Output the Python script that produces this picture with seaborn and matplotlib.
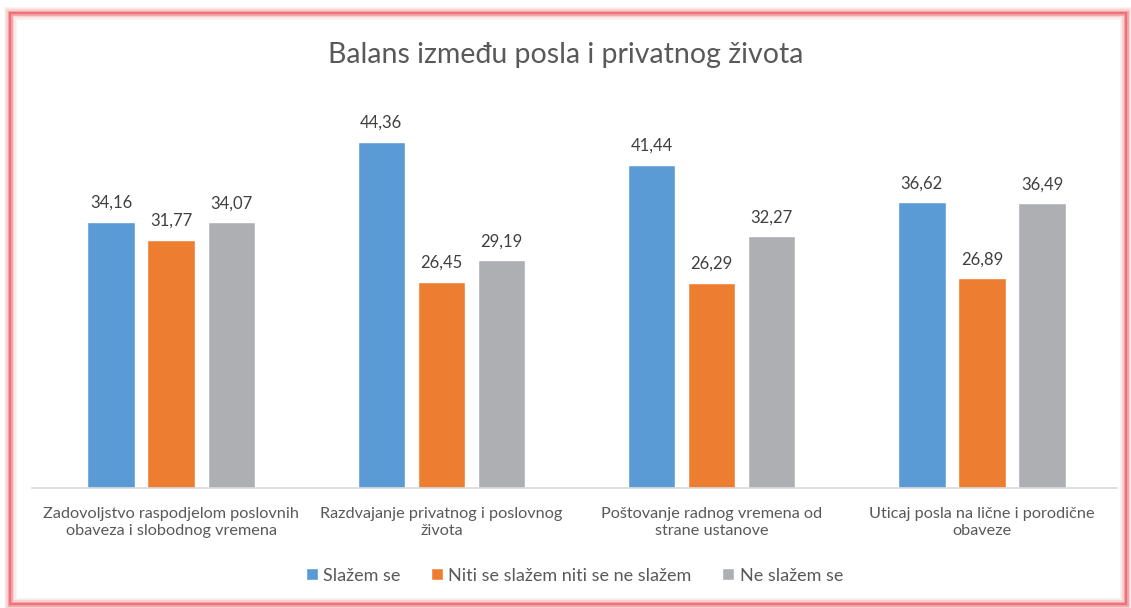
import numpy as np
import pandas as pd
import seaborn as sns
import matplotlib.pyplot as plt
from matplotlib.patches import Rectangle

# ----- data -----
categories = [
    "Zadovoljstvo raspodjelom poslovnih\nobaveza i slobodnog vremena",
    "Razdvajanje privatnog i poslovnog\nživota",
    "Poštovanje radnog vremena od\nstrane ustanove",
    "Uticaj posla na lične i porodične\nobaveze",
]
series = ["Slažem se", "Niti se slažem niti se ne slažem", "Ne slažem se"]
slazem = [34.16, 44.36, 41.44, 36.62]
niti = [31.77, 26.45, 26.29, 26.89]
ne_slazem = [34.07, 29.19, 32.27, 36.49]
colors = ["#5B9BD5", "#ED7D31", "#AEAFB2"]

df = pd.DataFrame({
    "category": categories * 3,
    "series": np.repeat(series, len(categories)),
    "value": slazem + niti + ne_slazem,
})

# ----- plot -----
sns.set_theme(style="white")
plt.rcParams["font.family"] = ["Lato", "DejaVu Sans"]

fig = plt.figure(figsize=(11.31, 6.08), dpi=100)
ax = fig.add_axes([32 / 1131, 1 - 488 / 608, (1117 - 32) / 1131, 390 / 608])

sns.barplot(data=df, x="category", y="value", hue="series",
            palette=colors, width=0.667, gap=0.21, ax=ax,
            legend=True, saturation=1)

ax.set_ylim(0, 50)
ax.set_xlim(-0.515, 3.5)
ax.set_yticks([])
ax.set_xlabel("")
ax.set_ylabel("")
for s in ["top", "left", "right"]:
    ax.spines[s].set_visible(False)
ax.spines["bottom"].set_color("#D9D9D9")
ax.spines["bottom"].set_linewidth(1.2)
ax.tick_params(axis="x", length=0, pad=14, labelsize=11.7, labelcolor="#595959")

for cont in ax.containers:
    ax.bar_label(cont, labels=[f"{v:.2f}".replace(".", ",") for v in cont.datavalues],
                 padding=8, fontsize=12, color="#404040")

leg = ax.legend(loc="center", bbox_to_anchor=(0.5, -0.225), ncol=3, frameon=False,
                fontsize=13, handlelength=0.65, handleheight=0.65, handletextpad=0.3,
                columnspacing=1.7)
for t in leg.get_texts():
    t.set_color("#595959")

fig.text(0.5, 1 - 55 / 608, "Balans između posla i privatnog života",
         ha="center", va="center", fontsize=20.5, color="#595959")

# border with a soft glow
for lw, a in [(9, 0.12), (6, 0.2), (3.5, 0.45), (1.6, 0.9)]:
    fig.patches.append(Rectangle((10 / 1131, 4 / 608), 1116 / 1131, 591 / 608,
                                 transform=fig.transFigure, fill=False,
                                 edgecolor="#EE6E73", linewidth=lw, alpha=a))

fig.savefig("out.png", dpi=100)
